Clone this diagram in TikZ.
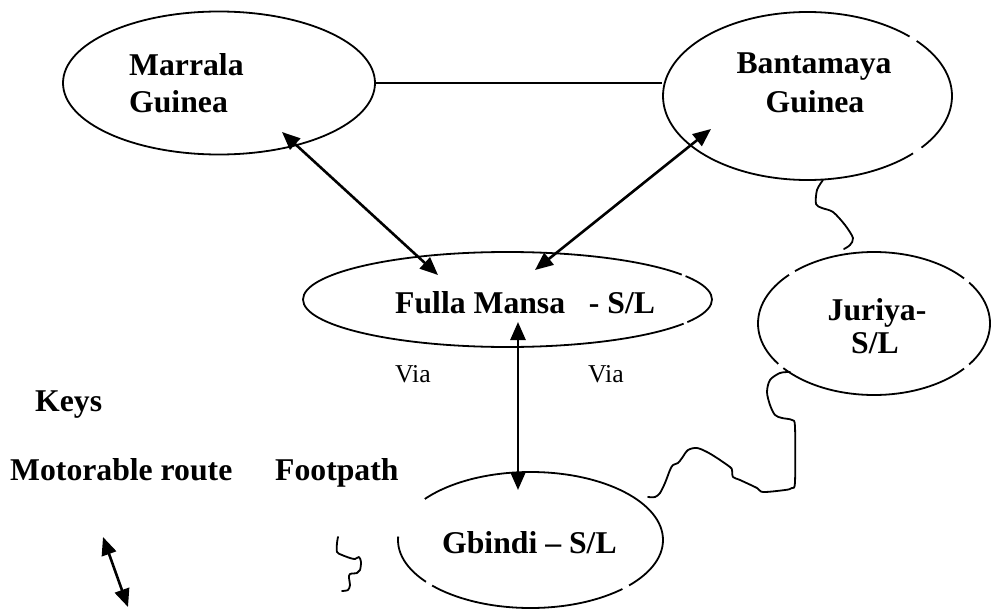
\documentclass[tikz,border=0pt]{standalone}
\usepackage{fontspec}
\setmainfont{Liberation Serif}
\usetikzlibrary{shapes.geometric,arrows.meta}
\begin{document}
\begin{tikzpicture}[x=1pt,y=-1pt,
  place/.style={draw,ellipse,line width=1.8pt,inner sep=0pt},
  lbl/.style={inner sep=0pt,font=\fontsize{31.7}{38}\selectfont\bfseries},
  via/.style={inner sep=0pt,font=\fontsize{25.7}{30}\selectfont},
  road/.style={line width=2.6pt,{Triangle[length=18pt,width=15pt]}-{Triangle[length=18pt,width=15pt]}},
  foot/.style={line width=1.8pt,line cap=round,line join=round},
  gap/.style={draw=white,line width=4.5pt}]
\useasboundingbox (0,0) rectangle (991,610);
% places
\node[place,minimum width=312pt,minimum height=143pt] (mar) at (219,83) {};
\node[place,minimum width=289pt,minimum height=168pt] (ban) at (807.5,96) {};
\node[place,minimum width=409pt,minimum height=95pt] (ful) at (507.5,299.5) {};
\node[place,minimum width=232pt,minimum height=143pt] (jur) at (874,323.5) {};
\node[place,minimum width=265pt,minimum height=136pt] (gbi) at (530.5,540) {};
% breaks in the outlines
\draw[gap] (ban.center) ++(-45:144.5 and 84) arc[start angle=-45,end angle=-41,x radius=144.5,y radius=84];
\draw[gap] (ban.center) ++(38:144.5 and 84) arc[start angle=38,end angle=43,x radius=144.5,y radius=84];
\draw[gap] (ful.center) ++(-31.5:204.5 and 47.5) arc[start angle=-31.5,end angle=-29.5,x radius=204.5,y radius=47.5];
\draw[gap] (ful.center) ++(28.5:204.5 and 47.5) arc[start angle=28.5,end angle=30.5,x radius=204.5,y radius=47.5];
\draw[gap] (jur.center) ++(-137:116 and 71.5) arc[start angle=-137,end angle=-133,x radius=116,y radius=71.5];
\draw[gap] (jur.center) ++(-39:116 and 71.5) arc[start angle=-39,end angle=-35,x radius=116,y radius=71.5];
\draw[gap] (jur.center) ++(141.5:116 and 71.5) arc[start angle=141.5,end angle=145.5,x radius=116,y radius=71.5];
\draw[gap] (jur.center) ++(35:116 and 71.5) arc[start angle=35,end angle=39,x radius=116,y radius=71.5];
\draw[gap] (gbi.center) ++(183:132.5 and 68) arc[start angle=183,end angle=217,x radius=132.5,y radius=68];
\draw[gap] (gbi.center) ++(138:132.5 and 68) arc[start angle=138,end angle=142,x radius=132.5,y radius=68];
\draw[gap] (gbi.center) ++(42:132.5 and 68) arc[start angle=42,end angle=46,x radius=132.5,y radius=68];
% labels
\node[lbl,anchor=base west] (mar1) at (129,75) {Marrala};
\node[lbl,anchor=base west] (mar2) at (129,112) {Guinea};
\node[lbl,anchor=base] (ban1) at (814,74) {Bantamaya};
\node[lbl,anchor=base] (ban2) at (815,112) {Guinea};
\node[lbl,anchor=base west] (fult) at (395,313) {Fulla Mansa\ \ \ - S/L};
\node[lbl,anchor=base] (jur1) at (877,320) {Juriya-};
\node[lbl,anchor=base] (jur2) at (875,353) {S/L};
\node[lbl,anchor=base west] (gbit) at (442,553) {Gbindi – S/L};
\node[via,anchor=base west] (via1) at (395,382) {Via};
\node[via,anchor=base west] (via2) at (588,382) {Via};
\node[lbl,anchor=base west] (keys) at (35,411) {Keys};
\node[lbl,anchor=base west] (kmot) at (10,480) {Motorable route};
\node[lbl,anchor=base west] (kfoot) at (275,480) {Footpath};
% motorable routes
\draw[line width=1.8pt] (mar.east) -- (mar.east -| ban.west);
\coordinate (m1) at (282,132);
\coordinate (f1) at (438,275);
\coordinate (b1) at (711,129);
\coordinate (f2) at (535,270);
\coordinate (f3) at (518,322);
\coordinate (g1) at (518,490);
\draw[road] (m1) -- (f1);
\draw[road] (b1) -- (f2);
\draw[road] (f3) -- (g1);
\coordinate (ka) at (103,537);
\coordinate (kb) at (128,607);
\draw[road] (ka) -- (kb);
% footpaths
\draw[foot] plot[smooth,tension=0.5] coordinates {(823,180) (817,190) (816,204) (822,208) (833,212) (845,225) (853,238) (850,245) (844,249)};
\draw[foot] plot[smooth,tension=0.5] coordinates {(790,372) (780,373) (770,380) (767,392) (770,405) (775,415) (782,418) (792,420) (795,427) (795,482) (792,488) (785,490) (763,492) (757,488) (740,480) (733,477) (732,470) (730,467) (717,458) (707,452) (697,448) (688,450) (682,458) (678,463) (673,465) (670,470) (665,483) (660,493) (655,497) (648,497)};
\draw[foot] plot[smooth,tension=0.5] coordinates {(338,537) (337,543) (337,552) (342,555) (350,558) (355,559) (359,557) (361,562) (360,570) (357,573) (350,574) (349,578) (350,585) (348,590) (342,591)};
\end{tikzpicture}
\end{document}
